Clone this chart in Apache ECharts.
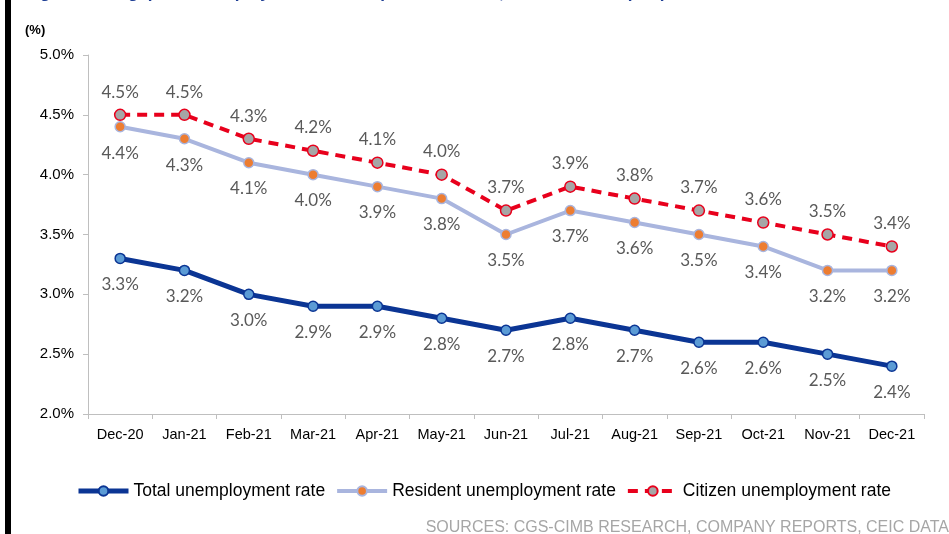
<!DOCTYPE html>
<html><head><meta charset="utf-8">
<script src="https://cdn.jsdelivr.net/npm/echarts@6/dist/echarts.min.js"></script>
<style>html,body{margin:0;padding:0;background:#fff}#c{width:949px;height:534px}</style>
</head><body><div id="c"></div>
<script>
const categories = ['Dec-20','Jan-21','Feb-21','Mar-21','Apr-21','May-21','Jun-21','Jul-21','Aug-21','Sep-21','Oct-21','Nov-21','Dec-21'];
const totalRate = [3.3,3.2,3.0,2.9,2.9,2.8,2.7,2.8,2.7,2.6,2.6,2.5,2.4];
const residentRate = [4.4,4.3,4.1,4.0,3.9,3.8,3.5,3.7,3.6,3.5,3.4,3.2,3.2];
const citizenRate = [4.5,4.5,4.3,4.2,4.1,4.0,3.7,3.9,3.8,3.7,3.6,3.5,3.4];
const seriesNames = ['Total unemployment rate','Resident unemployment rate','Citizen unemployment rate'];

const chart = echarts.init(document.getElementById('c'));
const lblFont = {fontFamily:'Lato, "Open Sans", sans-serif', fontSize:17, color:'#595959'};
const fmt = p => p.value.toFixed(1) + '%';
chart.setOption({
  animation:false,
  graphic:[
    {type:'rect', shape:{x:5,y:0,width:6,height:534}, style:{fill:'#000'}},
    {type:'text', left:25, top:-15, style:{text:'Figure 1: Singapore unemployment rates improved in 2021, but still above pre-pandemic levels', fill:'#1f3f95', font:'bold 17px "Liberation Sans", Arial, sans-serif'}},
    {type:'text', left:25, top:24, style:{text:'(%)', fill:'#000', font:'bold 13px "Liberation Sans Narrow", "Liberation Sans", Arial, sans-serif'}},
    {type:'text', right:0, top:520, style:{text:'SOURCES: CGS-CIMB RESEARCH, COMPANY REPORTS, CEIC DATA', fill:'#a6a6a6', font:'16px "Liberation Sans", Arial, sans-serif'}}
  ],
  grid:{left:88, right:25, top:55, bottom:120},
  legend:{
    top:477, left:71, itemWidth:50, itemHeight:12, itemGap:10,
    textStyle:{fontFamily:'"Liberation Sans", Arial, sans-serif', fontSize:17.5, color:'#000'},
    data: [
      {name:seriesNames[0], lineStyle:{width:5}},
      {name:seriesNames[1], lineStyle:{width:4}},
      {name:seriesNames[2], lineStyle:{width:4}}
    ]
  },
  xAxis:{
    type:'category', data:categories, boundaryGap:true,
    axisLine:{lineStyle:{color:'#bfbfbf', width:1}},
    axisTick:{show:true, length:5, lineStyle:{color:'#bfbfbf'}},
    axisLabel:{color:'#000', fontFamily:'"Liberation Sans", Arial, sans-serif', fontSize:14.5, margin:13, interval:0}
  },
  yAxis:{
    type:'value', min:2.0, max:5.0, interval:0.5,
    axisLine:{show:true, lineStyle:{color:'#bfbfbf'}},
    axisTick:{show:true, length:5, lineStyle:{color:'#bfbfbf'}},
    splitLine:{show:false},
    axisLabel:{color:'#000', fontFamily:'"Liberation Sans", Arial, sans-serif', fontSize:15, margin:14, formatter:v=>v.toFixed(1)+'%'}
  },
  series:[
    {name:seriesNames[0], type:'line', data:totalRate, symbol:'circle', symbolSize:10,
     lineStyle:{color:'#0b3594', width:5}, itemStyle:{color:'#5b9bd5', borderColor:'#0b3594', borderWidth:1.5},
     label:{show:true, position:'bottom', distance:12, formatter:fmt, ...lblFont}, z:3},
    {name:seriesNames[1], type:'line', data:residentRate, symbol:'circle', symbolSize:10,
     lineStyle:{color:'#a9b5de', width:4}, itemStyle:{color:'#ed7d31', borderColor:'#a9b5de', borderWidth:1.5},
     label:{show:true, position:'bottom', distance:12, formatter:fmt, ...lblFont}, z:4},
    {name:seriesNames[2], type:'line', data:citizenRate, symbol:'circle', symbolSize:11,
     lineStyle:{color:'#e8001c', width:4, type:[10,7]}, itemStyle:{color:'#a6a6a6', borderColor:'#e8001c', borderWidth:1.5},
     label:{show:true, position:'top', distance:8, formatter:fmt, ...lblFont}, z:5}
  ]
});
</script></body></html>
